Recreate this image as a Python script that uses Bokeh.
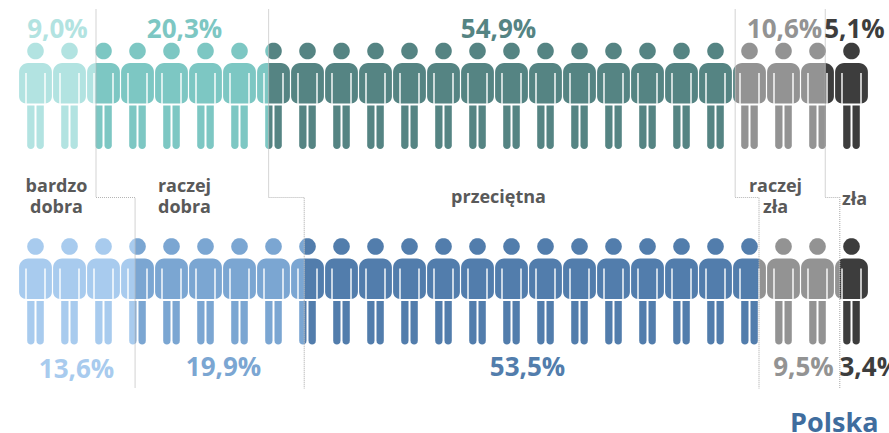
import math
from bokeh.plotting import figure
from bokeh.models import Range1d
from bokeh.core.properties import value
from bokeh.embed import file_html
from bokeh.resources import INLINE

# --- data ---
categories = ["bardzo\ndobra", "raczej\ndobra", "przeciętna", "raczej\nzła", "zła"]
upper_values = [9.0, 20.3, 54.9, 10.6, 5.1]
lower_values = [13.6, 19.9, 53.5, 9.5, 3.4]
upper_labels = ["9,0%", "20,3%", "54,9%", "10,6%", "5,1%"]
lower_labels = ["13,6%", "19,9%", "53,5%", "9,5%", "3,4%"]
upper_colors = ["#B2E3E1", "#7DC7C3", "#558483", "#939393", "#3D3D3D"]
lower_colors = ["#A8CBEE", "#7BA6D2", "#527DAC", "#939393", "#3D3D3D"]
title = "Polska"

PERSON_PCT = 4.0            # one figure stands for 4 %
PX = 8.5                    # pixels per percent
X0 = 19.0                   # pixel of 0 %

W, H = 889, 433
p = figure(width=W, height=H, output_backend="svg", toolbar_location=None,
           x_axis_type=None, y_axis_type=None, min_border=0,
           x_range=Range1d((0 - X0) / PX, (W - X0) / PX),
           y_range=Range1d(H, 0),
           outline_line_color=None, background_fill_color="white", border_fill_color="white")
p.grid.visible = False


def arc(cx, cy, r, a0, a1, n=8):
    return [(cx + r * math.cos(math.radians(a0 + (a1 - a0) * i / n)),
             cy + r * math.sin(math.radians(a0 + (a1 - a0) * i / n))) for i in range(n + 1)]


def person_parts():
    hw, t, b, rt, rb = 16.4, 12.0, 52.5, 9.0, 7.0
    head = arc(0, 0, 8.3, 0, 360, 32)[:-1]
    body = []
    body += arc(-hw + rt, t + rt, rt, 180, 270)
    body += arc(hw - rt, t + rt, rt, 270, 360)
    body += arc(hw - rb, b - rb, rb, 0, 90)
    body += [(10.2, b), (10.2, 22.0), (8.8, 22.0), (8.8, b), (-8.8, b), (-8.8, 22.0), (-10.2, 22.0), (-10.2, b)]
    body += arc(-hw + rb, b - rb, rb, 90, 180)
    lt, lb, lr = 54.5, 98.0, 3.65
    leg_l = [(-8.3, lt), (-1.0, lt)] + arc(-1.0 - lr, lb - lr, lr, 0, 180)
    leg_r = [(1.0, lt), (8.3, lt)] + arc(8.3 - lr, lb - lr, lr, 0, 180)
    return [head, body, leg_l, leg_r]


def clip(poly, xmin, xmax):
    def half(pts, inside, cross):
        out = []
        for i, a in enumerate(pts):
            b = pts[(i + 1) % len(pts)]
            if inside(a):
                out.append(a)
            if inside(a) != inside(b):
                t = (cross - a[0]) / (b[0] - a[0])
                out.append((cross, a[1] + t * (b[1] - a[1])))
        return out
    pts = half(poly, lambda q: q[0] >= xmin, xmin)
    if pts:
        pts = half(pts, lambda q: q[0] <= xmax, xmax)
    return pts


def draw_row(vals, colors, head_y):
    edges = [0.0]
    for v in vals:
        edges.append(edges[-1] + v)
    edges[-1] = 100.0
    xs, ys, cs = [], [], []
    parts = person_parts()
    for i in range(int(100 / PERSON_PCT)):
        cx = (i + 0.5) * PERSON_PCT - 1 / PX       # figures sit 1px left of the scale
        for part in parts:
            scaled = [(cx + a / PX, head_y + b) for a, b in part]
            for k, col in enumerate(colors):
                lo = edges[k] if k else -10
                hi = edges[k + 1] if k < len(colors) - 1 else 110
                c = clip(scaled, lo, hi)
                if len(c) >= 3:
                    xs.append([q[0] for q in c])
                    ys.append([q[1] for q in c])
                    cs.append(col)
    p.patches(xs, ys, fill_color=cs, line_color=None)


draw_row(upper_values, upper_colors, 50.5)
draw_row(lower_values, lower_colors, 246.0)

# dotted connectors between the two rows, driven by the cumulative shares
for k in range(4):
    a = sum(upper_values[:k + 1])
    b = sum(lower_values[:k + 1])
    p.line([a, a, b, b], [9, 197, 197, 388], line_color="#B5B5B5", line_width=1.2, line_dash="1 1")


def pct(px):
    return (px - X0) / PX


FONT = value("Open Sans")
p.text([pct(x) for x in (57, 184, 498, 784, 854)], [27] * 5, text=upper_labels,
       text_color=upper_colors, text_font=FONT, text_font_style="bold", text_font_size="26px",
       text_align="center", text_baseline="middle")
p.text([pct(x) for x in (76, 223, 527, 803)], [367, 365, 365, 365], text=lower_labels[:4],
       text_color=lower_colors[:4], text_font=FONT, text_font_style="bold", text_font_size="26px",
       text_align="center", text_baseline="middle")
p.text([pct(839)], [365], text=lower_labels[4:], text_color=lower_colors[4:], text_font=FONT,
       text_font_style="bold", text_font_size="26px", text_align="left", text_baseline="middle")
p.text([pct(x) for x in (56, 184, 498, 775, 854)], [195, 195, 195, 195, 197], text=categories,
       text_color="#595959", text_font=FONT, text_font_style="bold", text_font_size="18px",
       text_align="center", text_baseline="middle", text_line_height=0.9)
p.text([pct(878)], [421], text=[title], text_color="#3F6D9E", text_font=FONT,
       text_font_style="bold", text_font_size="27px", text_align="right", text_baseline="middle")

open("out.html", "w").write(file_html(p, INLINE))
